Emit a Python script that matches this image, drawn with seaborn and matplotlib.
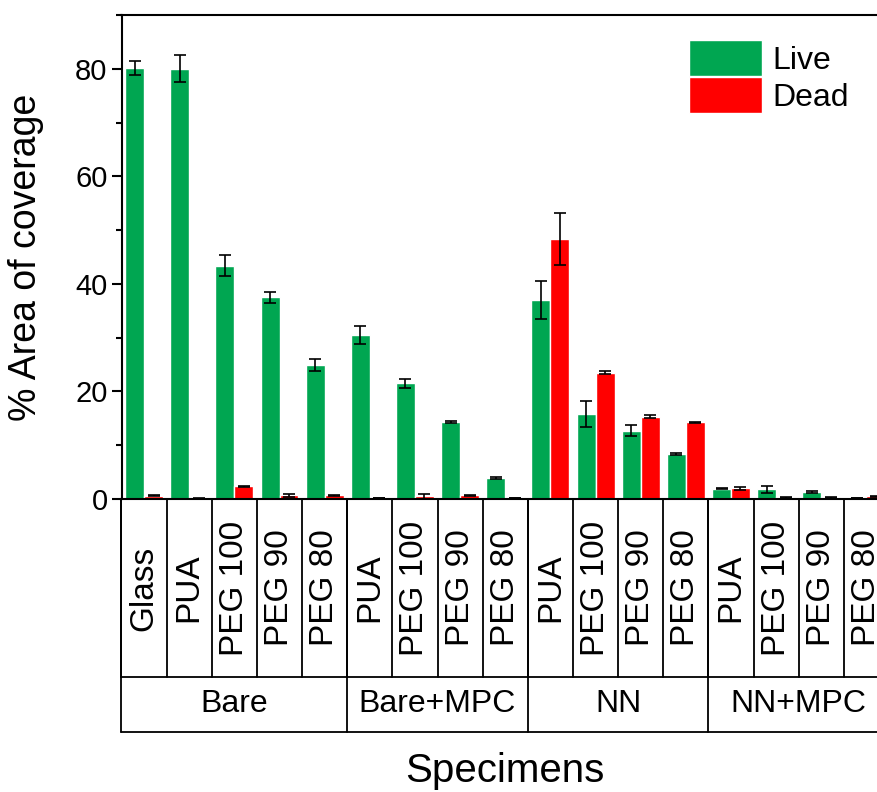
import pandas as pd
import seaborn as sns
import matplotlib.pyplot as plt
from matplotlib.ticker import MultipleLocator

# values
groups = ["Bare", "Bare+MPC", "NN", "NN+MPC"]
group_sizes = [5, 4, 4, 4]
specimens = ["Glass", "PUA", "PEG 100", "PEG 90", "PEG 80",
             "PUA", "PEG 100", "PEG 90", "PEG 80",
             "PUA", "PEG 100", "PEG 90", "PEG 80",
             "PUA", "PEG 100", "PEG 90", "PEG 80"]
live_mean = [80.2, 80.0, 43.4, 37.5, 24.9, 30.5, 21.5, 14.3, 3.9,
             37.0, 15.8, 12.7, 8.4, 1.9, 1.8, 1.3, 0.2]
live_err = [1.3, 2.5, 1.9, 1.0, 1.1, 1.6, 0.8, 0.2, 0.1,
            3.5, 2.4, 1.0, 0.2, 0.1, 0.7, 0.1, 0.05]
dead_mean = [0.6, 0.1, 2.4, 0.7, 0.7, 0.2, 0.5, 0.7, 0.2,
             48.3, 23.5, 15.3, 14.3, 2.0, 0.3, 0.3, 0.5]
dead_err = [0.1, 0.05, 0.1, 0.3, 0.1, 0.05, 0.5, 0.1, 0.05,
            4.8, 0.3, 0.3, 0.1, 0.3, 0.1, 0.05, 0.05]

sns.set_style("ticks")
plt.rcParams['font.family'] = ['Liberation Sans', 'DejaVu Sans']
plt.rcParams.update({"text.color": "black", "axes.labelcolor": "black",
                     "xtick.color": "black", "ytick.color": "black"})

# unique category keys (labels repeat across groups)
group_of = [g for g, n in zip(groups, group_sizes) for _ in range(n)]
keys = [f"{g}|{s}" for g, s in zip(group_of, specimens)]

df = pd.concat([
    pd.DataFrame({"key": keys, "status": "Live", "value": live_mean, "err": live_err}),
    pd.DataFrame({"key": keys, "status": "Dead", "value": dead_mean, "err": dead_err}),
])

fig = plt.figure(figsize=(8.77, 7.92), dpi=100)
# axes run past the right edge, as in the cropped original
ax = fig.add_axes([121.5 / 877, 293 / 792, 767.5 / 877, 484 / 792])

sns.barplot(data=df, x="key", y="value", hue="status", order=keys,
            palette={"Live": "#00A651", "Dead": "#FF0000"}, saturation=1,
            width=0.84, errorbar=None, ax=ax)

# error bars at the bar centres
for cont, status in zip(ax.containers, ["Live", "Dead"]):
    errs = df[df.status == status]["err"].values
    xs = [b.get_x() + b.get_width() / 2 for b in cont]
    hs = [b.get_height() for b in cont]
    ax.errorbar(xs, hs, yerr=errs, fmt="none", ecolor="black",
                elinewidth=1.2, capsize=4.3, capthick=1.2)

ax.set_xlim(-0.5, len(keys) - 0.5)
ax.set_ylim(0, 90)
ax.yaxis.set_major_locator(MultipleLocator(20))
ax.yaxis.set_minor_locator(MultipleLocator(10))
ax.tick_params(axis="y", which="major", direction="out", length=7, width=1.5, labelsize=21, pad=3)
ax.tick_params(axis="y", which="minor", direction="out", length=4.5, width=1.5)
ax.tick_params(axis="x", length=0, labelbottom=False)
ax.set_xlabel("")
ax.set_ylabel("% Area of coverage", fontsize=27)
ax.yaxis.set_label_coords(-0.101, 0.5)
for side in ["left", "bottom", "top", "right"]:
    ax.spines[side].set_visible(True)
    ax.spines[side].set_linewidth(1.5)
    ax.spines[side].set_color("black")

# table of specimen / group labels below the axis
tr = ax.get_xaxis_transform()
row1 = -178 / 484
row2 = -233 / 484
lw = 1.3
for i, s in enumerate(specimens):
    ax.text(i, row1 / 2, s, transform=tr, rotation=90, ha="center", va="center", fontsize=24)
    ax.plot([i - 0.5, i - 0.5], [0, row1], transform=tr, color="black", lw=lw, clip_on=False)
start = 0
for g, n in zip(groups, group_sizes):
    ax.plot([start - 0.5, start - 0.5], [0, row2], transform=tr, color="black", lw=lw, clip_on=False)
    ax.text(start + (n - 1) / 2, (row1 + row2) / 2, g, transform=tr,
            ha="center", va="center", fontsize=23)
    start += n
ax.plot([start - 0.5, start - 0.5], [0, row2], transform=tr, color="black", lw=lw, clip_on=False)
for yy in [row1, row2]:
    ax.plot([-0.5, len(keys) - 0.5], [yy, yy], transform=tr, color="black", lw=lw, clip_on=False)

ax.text(0.5, -272 / 484, "Specimens", transform=ax.transAxes, ha="center", va="center", fontsize=29)

handles, labels = ax.get_legend_handles_labels()
ax.legend(handles, labels, frameon=False, fontsize=23, handlelength=2.3, handleheight=1.35,
          labelspacing=0.05, handletextpad=0.3, borderpad=0, borderaxespad=0,
          loc="upper left", bbox_to_anchor=(689 / 877, 752 / 792), bbox_transform=fig.transFigure)

fig.savefig("out.png", dpi=100)
